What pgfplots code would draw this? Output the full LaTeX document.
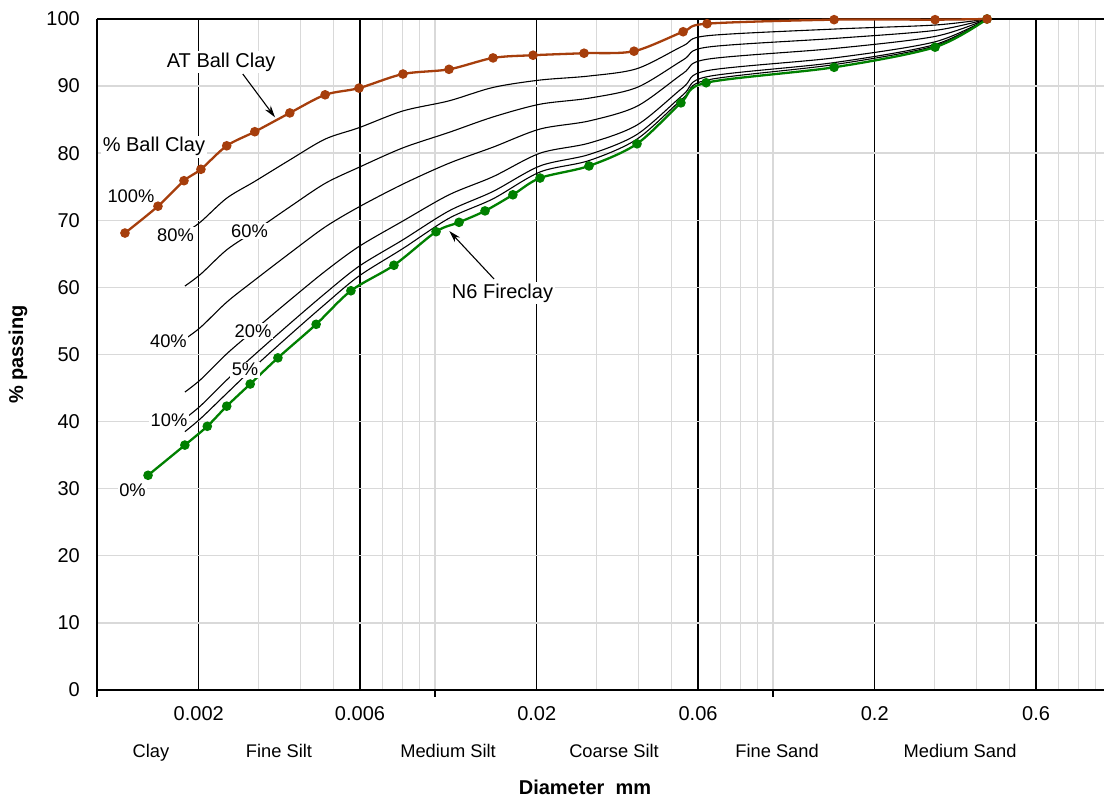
\documentclass[border=0pt]{standalone}
\usepackage{fontspec}
\setmainfont{Liberation Sans}
\usepackage{pgfplots}
\pgfplotsset{compat=1.18}
\usetikzlibrary{arrows.meta}
\definecolor{brownc}{RGB}{166,62,12}
\definecolor{greenc}{RGB}{0,128,0}
\definecolor{gridc}{RGB}{217,217,217}
\newcommand{\fbig}{\fontsize{20}{24}\selectfont}
\newcommand{\fsmall}{\fontsize{18.3}{22}\selectfont}
\begin{document}
\fsmall
\begin{tikzpicture}
\begin{axis}[
  xmode=log,
  width=1007pt, height=671pt, scale only axis,
  xmin=0.001, xmax=0.953, ymin=0, ymax=100,
  axis x line=box, axis y line=left,
  every outer x axis line/.append style={-},
  every outer y axis line/.append style={-},
  x axis line style={-, line width=2.8pt},
  y axis line style={-, line width=2.6pt},
  xtick={0.002,0.006,0.02,0.06,0.2,0.6},
  xticklabels={0.002,0.006,0.02,0.06,0.2,0.6},
  minor xtick={0.003,0.004,0.005,0.007,0.008,0.009,0.01,0.03,0.04,0.05,0.07,0.08,0.09,0.1,0.3,0.4,0.5,0.7,0.8,0.9},
  ytick={0,10,...,100},
  xmajorgrids, xminorgrids, ymajorgrids,
  major x grid style={black, line width=1.2pt},
  minor x grid style={gridc, line width=1.4pt},
  major y grid style={gridc, line width=1.4pt},
  major tick length=0pt, minor tick length=0pt,
  xtick pos=bottom, ytick pos=left,
  extra x ticks={0.001,0.01,0.1},
  extra x tick labels={},
  extra x tick style={grid=none, major tick length=7pt, tick align=outside, tick style={black, line width=1.4pt}},
  /pgf/number format/assume math mode=true,
  xticklabel style={anchor=base, yshift=-31pt, font=\fbig},
  yticklabel style={anchor=east, inner sep=0pt, xshift=-17pt, font=\fbig},
  clip=false,
  every axis plot/.append style={smooth, tension=0.5},
]
\coordinate (O) at (rel axis cs:0,0);
% blend curves (80%,60%,40%,20%,10%,5%)
\addplot[black, line width=1.1pt] coordinates {(0.00182,68.1)(0.00203,69.8)(0.00242,73.3)(0.00293,75.8)(0.00372,79.0)(0.00473,82.1)(0.00596,83.8)(0.00804,86.3)(0.0110,87.8)(0.01485,89.8)(0.02045,90.9)(0.02855,91.5)(0.0396,92.6)(0.0542,96.0)(0.0638,97.5)(0.1516,98.5)(0.3016,99.1)(0.4297,100)};
\addplot[black, line width=1.1pt] coordinates {(0.00182,60.2)(0.00203,62.0)(0.00242,65.6)(0.00293,68.4)(0.00372,72.0)(0.00473,75.5)(0.00596,77.9)(0.00804,80.8)(0.0110,83.1)(0.01485,85.4)(0.02045,87.3)(0.02855,88.2)(0.0396,89.8)(0.0542,93.9)(0.0638,95.8)(0.1516,97.1)(0.3016,98.3)(0.4297,100)};
\addplot[black, line width=1.1pt] coordinates {(0.00182,52.3)(0.00203,54.1)(0.00242,57.8)(0.00293,61.1)(0.00372,65.1)(0.00473,69.0)(0.00596,72.0)(0.00804,75.4)(0.0110,78.5)(0.01485,80.9)(0.02045,83.6)(0.02855,84.8)(0.0396,87.0)(0.0542,91.9)(0.0638,94.0)(0.1516,95.6)(0.3016,97.4)(0.4297,100)};
\addplot[black, line width=1.1pt] coordinates {(0.00182,44.4)(0.00203,46.3)(0.00242,50.1)(0.00293,53.7)(0.00372,58.1)(0.00473,62.4)(0.00596,66.1)(0.00804,69.9)(0.0110,73.8)(0.01485,76.5)(0.02045,80.0)(0.02855,81.5)(0.0396,84.2)(0.0542,89.8)(0.0638,92.3)(0.1516,94.2)(0.3016,96.6)(0.4297,100)};
\addplot[black, line width=1.1pt] coordinates {(0.00182,40.45)(0.00203,42.4)(0.00242,46.2)(0.00293,50.0)(0.00372,54.6)(0.00473,59.1)(0.00596,63.15)(0.00804,67.1)(0.0110,71.4)(0.01485,74.3)(0.02045,78.1)(0.02855,79.8)(0.0396,82.8)(0.0542,88.7)(0.0638,91.4)(0.1516,93.5)(0.3016,96.2)(0.4297,100)};
\addplot[black, line width=1.1pt] coordinates {(0.00182,38.5)(0.00203,40.5)(0.00242,44.2)(0.00293,48.2)(0.00372,52.9)(0.00473,57.5)(0.00596,61.7)(0.00804,65.8)(0.0110,70.3)(0.01485,73.2)(0.02045,77.2)(0.02855,78.9)(0.0396,82.1)(0.0542,88.2)(0.0638,90.9)(0.1516,93.2)(0.3016,96.0)(0.4297,100)};
% N6 Fireclay
\addplot[greenc, line width=2.3pt, mark=*, mark size=3.6pt, mark options={solid}] coordinates {(0.001416,32.0)(0.00182,36.5)(0.00212,39.3)(0.00242,42.3)(0.00284,45.6)(0.00343,49.5)(0.00445,54.5)(0.00564,59.5)(0.00756,63.3)(0.01007,68.3)(0.01178,69.7)(0.01406,71.4)(0.0170,73.8)(0.02045,76.3)(0.02855,78.1)(0.0396,81.4)(0.0534,87.5)(0.0634,90.5)(0.1516,92.8)(0.3016,95.8)(0.4297,100)};
% AT Ball Clay
\addplot[brownc, line width=2.3pt, mark=*, mark size=3.6pt, mark options={solid}] coordinates {(0.00121,68.1)(0.001515,72.1)(0.001809,75.9)(0.00203,77.6)(0.00242,81.1)(0.00293,83.2)(0.00372,86.0)(0.00473,88.7)(0.00596,89.7)(0.00804,91.8)(0.0110,92.5)(0.01485,94.2)(0.0195,94.6)(0.0276,94.9)(0.0388,95.2)(0.0542,98.1)(0.0638,99.3)(0.1516,99.9)(0.3016,99.9)(0.4297,100)};
% labels
\tikzset{lab/.style={fill=white, inner sep=1.5pt, anchor=base}}
\node[lab] at (axis cs:0.00126,72.6) {100\%};
\node[lab] at (axis cs:0.001707,66.9) {80\%};
\node[lab] at (axis cs:0.002826,67.4) {60\%};
\node[lab] at (axis cs:0.001627,51.0) {40\%};
\node[lab] at (axis cs:0.002894,52.6) {20\%};
\node[lab] at (axis cs:0.002741,46.8) {5\%};
\node[lab] at (axis cs:0.001633,39.3) {10\%};
\node[lab] at (axis cs:0.001274,28.8) {0\%};
\node[lab, font=\fbig] at (axis cs:0.001474,80.2) {\% Ball Clay};
\node[lab, font=\fbig] at (axis cs:0.00233,92.8) {AT Ball Clay};
\node[lab, font=\fbig] at (axis cs:0.01584,58.4) {N6 Fireclay};
\draw[line width=1.1pt, -{Stealth[length=12pt,width=7pt]}] (axis cs:0.0027,91.8) -- (axis cs:0.003363,85.35);
\draw[line width=1.1pt, -{Stealth[length=12pt,width=7pt]}] (axis cs:0.01495,61.25) -- (axis cs:0.01102,68.4);
% zone labels
\node[anchor=base] at (axis cs:0.001445,0) [yshift=-68pt] {Clay};
\node[anchor=base] at (axis cs:0.003455,0) [yshift=-68pt] {Fine Silt};
\node[anchor=base] at (axis cs:0.01093,0) [yshift=-68pt] {Medium Silt};
\node[anchor=base] at (axis cs:0.03385,0) [yshift=-68pt] {Coarse Silt};
\node[anchor=base] at (axis cs:0.1028,0) [yshift=-68pt] {Fine Sand};
\node[anchor=base] at (axis cs:0.3575,0) [yshift=-68pt] {Medium Sand};
\node[anchor=base, font=\fbig\bfseries] at (rel axis cs:0.4846,0) [yshift=-105pt] {Diameter\ \ mm};
\node[font=\fbig\bfseries, rotate=90] at (rel axis cs:-0.0785,0.5) {\% passing};
\end{axis}
\pgfresetboundingbox
\path[use as bounding box] (O) ++(-97pt,-113pt) rectangle ++(1104pt,803pt);
\end{tikzpicture}
\end{document}
